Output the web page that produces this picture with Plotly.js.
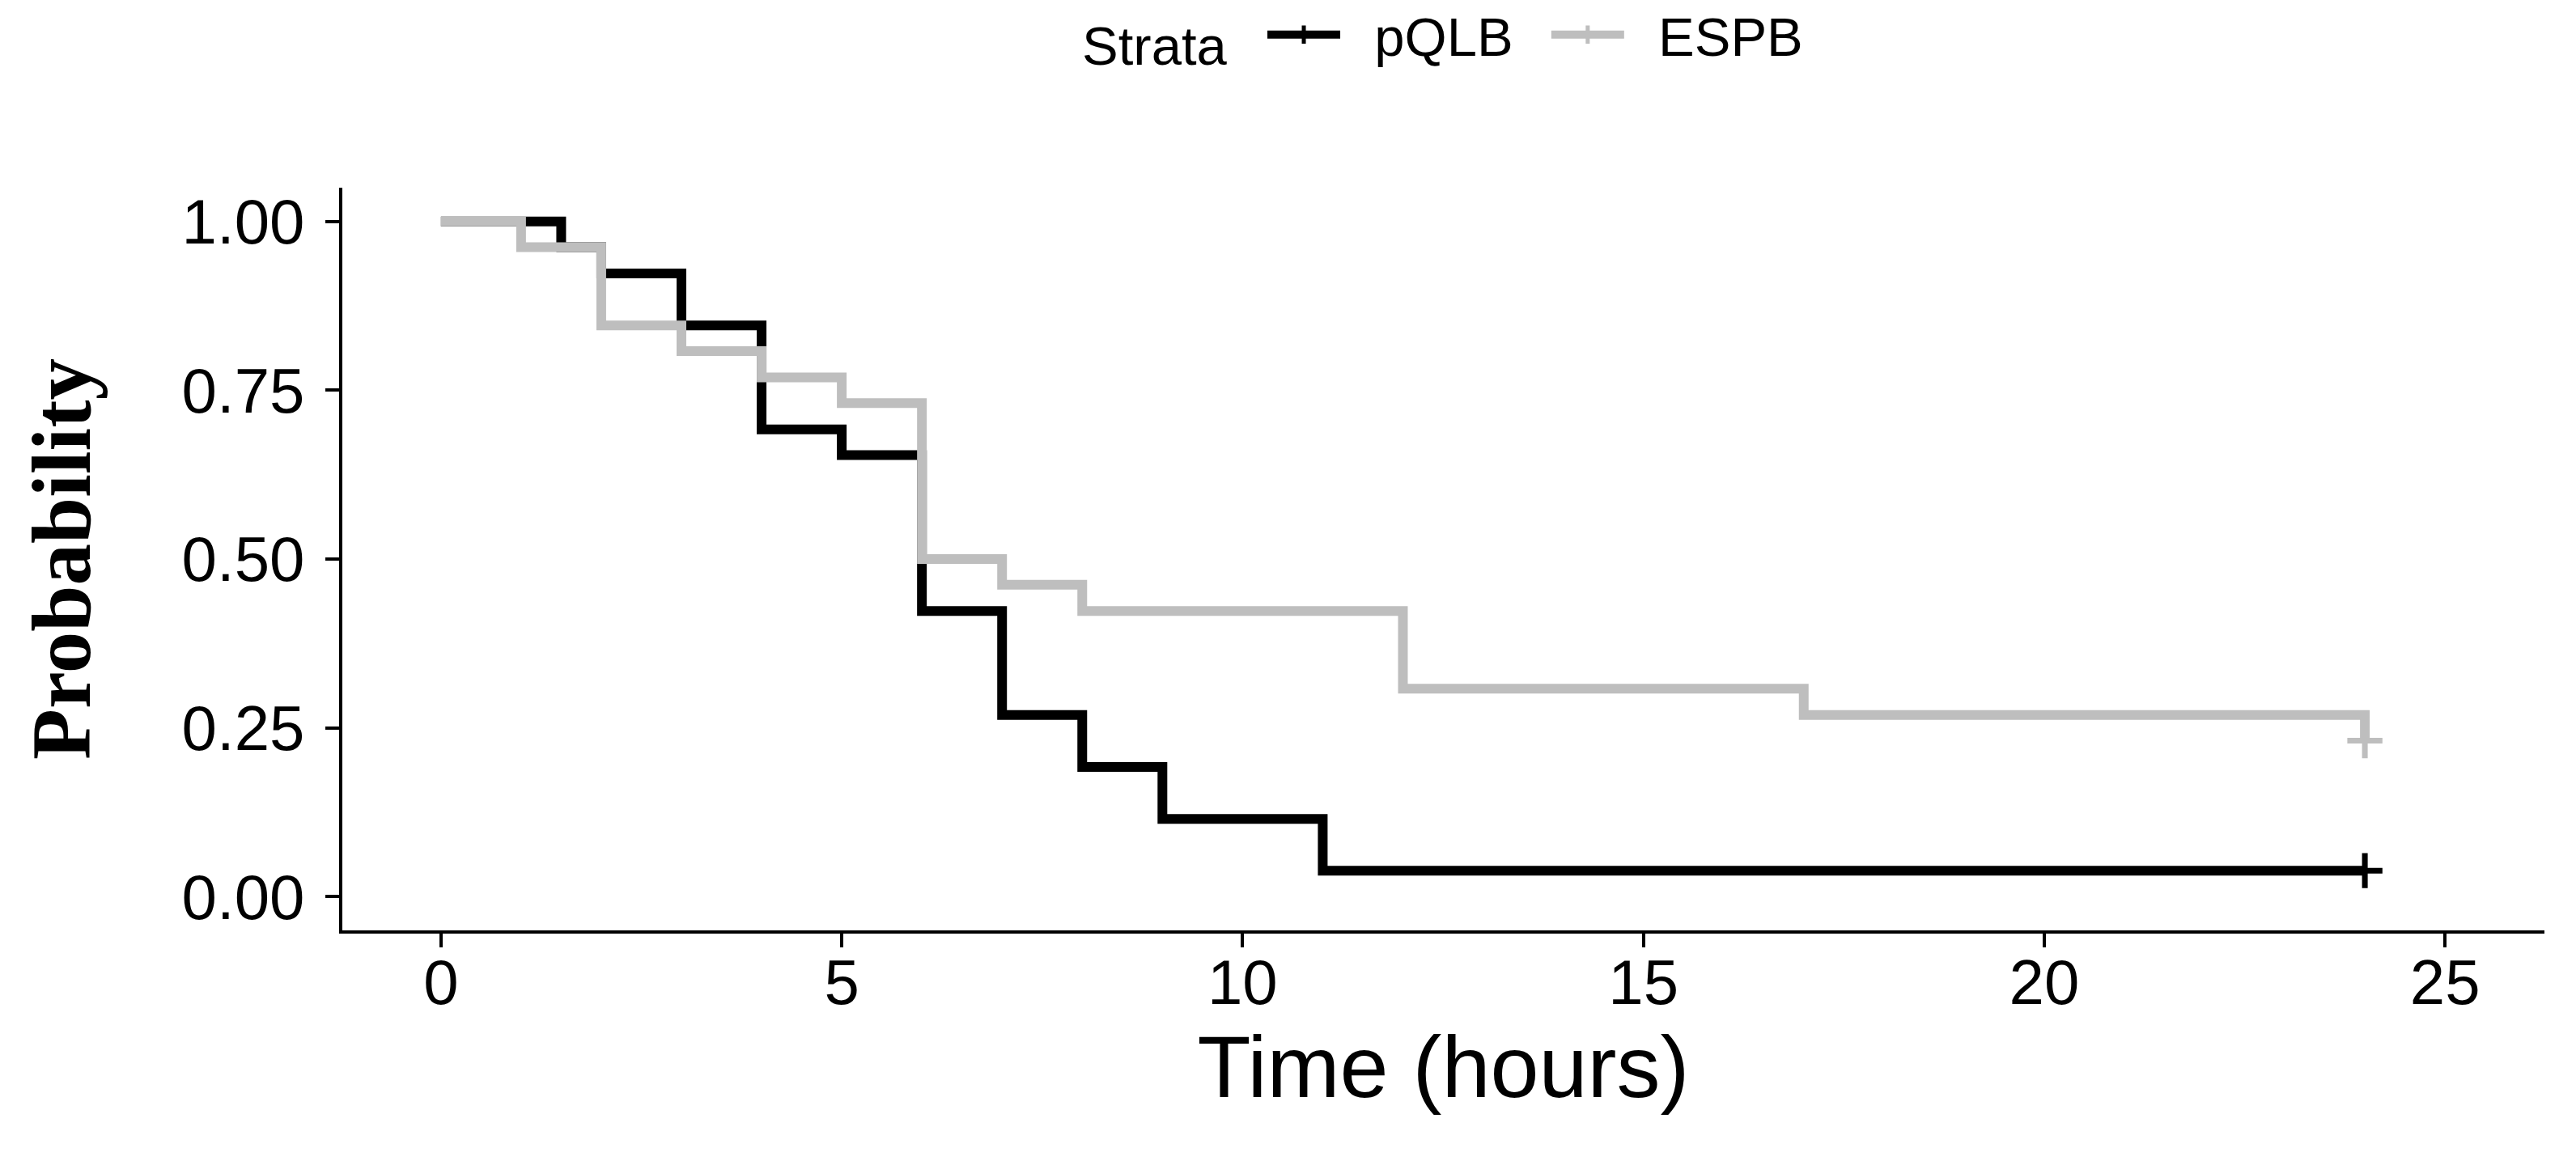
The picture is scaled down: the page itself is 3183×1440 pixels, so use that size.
<!DOCTYPE html>
<html>
<head>
<meta charset="utf-8">
<script src="https://cdn.plot.ly/plotly-3.0.1.min.js"></script>
<style>
  html, body { margin: 0; padding: 0; background: #fff; }
  #graph { width: 3183px; height: 1440px; }
</style>
</head>
<body>
<div id="graph"></div>
<script>
// Kaplan-Meier step values
const pqlbTime = [0, 1.5, 2, 3, 4, 5, 6, 7, 8, 9, 11, 24];
const pqlbSurv = [1, 0.962, 0.923, 0.846, 0.692, 0.654, 0.423, 0.269, 0.192, 0.115, 0.0385, 0.0385];

const espbTime = [0, 1, 2, 3, 4, 5, 6, 7, 8, 12, 17, 24];
const espbSurv = [1, 0.962, 0.846, 0.808, 0.769, 0.731, 0.5, 0.462, 0.423, 0.308, 0.269, 0.231];

// censored observations (the + marks)
const pqlbCensorTime = [24];
const pqlbCensorSurv = [0.0385];
const espbCensorTime = [24];
const espbCensorSurv = [0.231];

const xTicks = [0, 5, 10, 15, 20, 25];
const yTicks = [0, 0.25, 0.5, 0.75, 1];

const BLACK = '#000000';
const GREY = '#bebebe';
const SANS = '"Liberation Sans", Arial, sans-serif';
const NB = '\u00a0';

function stepTrace(x, y, name, color) {
  return {
    x: x,
    y: y,
    type: 'scatter',
    mode: 'lines',
    line: { shape: 'hv', color: color, width: 12 },
    name: name,
    legendgroup: name,
    showlegend: false,
    hoverinfo: 'skip'
  };
}

// the censor marks carry the legend entry (line + cross)
function censorTrace(x, y, name, color) {
  return {
    x: x,
    y: y,
    type: 'scatter',
    mode: 'lines+markers',
    line: { color: color, width: 12 },
    marker: {
      symbol: 'cross-thin',
      size: 31,
      color: color,
      line: { color: color, width: 7 }
    },
    // padding so the legend spacing looks like the ggplot one
    name: NB + NB + name + NB + NB,
    legendgroup: name,
    cliponaxis: false
  };
}

const traces = [
  stepTrace(pqlbTime, pqlbSurv, 'pQLB', BLACK),
  stepTrace(espbTime, espbSurv, 'ESPB', GREY),
  censorTrace(pqlbCensorTime, pqlbCensorSurv, 'pQLB', BLACK),
  censorTrace(espbCensorTime, espbCensorSurv, 'ESPB', GREY)
];

const layout = {
  width: 3183,
  height: 1440,
  paper_bgcolor: '#ffffff',
  plot_bgcolor: '#ffffff',
  margin: { l: 423, r: 39, t: 232, b: 290, pad: 0 },
  font: { family: SANS, color: '#000000' },
  showlegend: true,
  legend: {
    orientation: 'h',
    xref: 'paper',
    x: 0.507,
    xanchor: 'center',
    yref: 'container',
    y: 0.97,
    yanchor: 'middle',
    font: { family: SANS, size: 67, color: '#000000' },
    title: { text: 'Strata' + NB + NB, side: 'left', font: { family: SANS, size: 67, color: '#000000' } },
    itemwidth: 90,
    traceorder: 'normal'
  },
  xaxis: {
    range: [-1.23, 26.24],
    tickvals: xTicks,
    ticks: 'outside',
    ticklen: 17,
    tickwidth: 4,
    tickcolor: '#000000',
    ticklabelstandoff: -24,
    tickfont: { family: SANS, size: 78, color: '#000000' },
    showline: true,
    linewidth: 4,
    linecolor: '#000000',
    showgrid: false,
    zeroline: false,
    title: { text: 'Time (hours)', font: { family: SANS, size: 108, color: '#000000' }, standoff: 20 }
  },
  yaxis: {
    range: [-0.05, 1.05],
    tickvals: yTicks,
    tickformat: '.2f',
    ticks: 'outside',
    ticklen: 17,
    tickwidth: 4,
    tickcolor: '#000000',
    ticklabelstandoff: 10,
    tickfont: { family: SANS, size: 78, color: '#000000' },
    showline: true,
    linewidth: 4,
    linecolor: '#000000',
    showgrid: false,
    zeroline: false,
    title: {
      text: '<b>Probability</b>',
      font: { family: '"Liberation Serif", "Times New Roman", serif', size: 103, color: '#000000' },
      standoff: 80
    }
  }
};

Plotly.newPlot('graph', traces, layout, { displayModeBar: false, staticPlot: true });
</script>
</body>
</html>
